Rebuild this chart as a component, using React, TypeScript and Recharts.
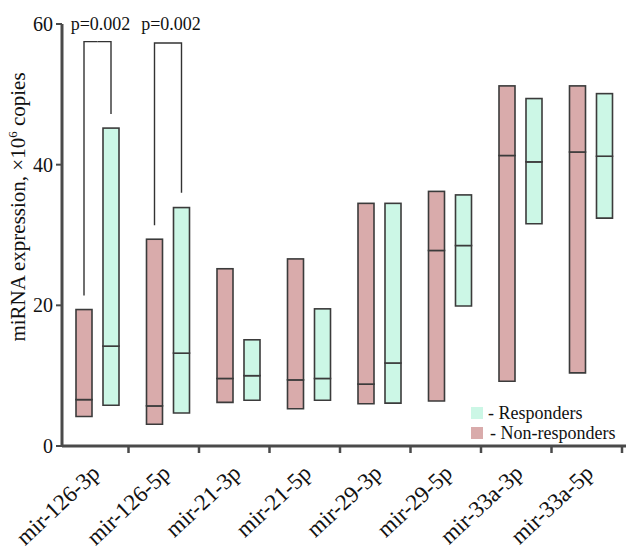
import { Bar, ComposedChart, XAxis, YAxis } from "recharts";

const categories = [
  "mir-126-3p",
  "mir-126-5p",
  "mir-21-3p",
  "mir-21-5p",
  "mir-29-3p",
  "mir-29-5p",
  "mir-33a-3p",
  "mir-33a-5p",
];

// Non-responders: min / median / max
const nrMin = [4.2, 3.1, 6.2, 5.3, 6.0, 6.4, 9.2, 10.4];
const nrMedian = [6.6, 5.7, 9.6, 9.4, 8.8, 27.8, 41.3, 41.8];
const nrMax = [19.4, 29.4, 25.2, 26.6, 34.5, 36.2, 51.2, 51.2];

// Responders: min / median / max
const rMin = [5.8, 4.7, 6.5, 6.5, 6.1, 19.9, 31.6, 32.4];
const rMedian = [14.2, 13.2, 10.0, 9.6, 11.8, 28.5, 40.4, 41.2];
const rMax = [45.2, 33.9, 15.1, 19.5, 34.5, 35.7, 49.4, 50.1];

// significance brackets (null = none)
const pLabels = ["p=0.002", "p=0.002", null, null, null, null, null, null];
const bracketTop = [57.5, 57.3, null, null, null, null, null, null];
const bracketNrLow = [21.4, 31.4, null, null, null, null, null, null];
const bracketRLow = [47.2, 36.0, null, null, null, null, null, null];
const pLabelValue = 59.1;

const yTicks = [0, 20, 40, 60];

const seriesLabels = ["- Responders", "- Non-responders"];

const CHART_W = 626;
const CHART_H = 549;
const Y_AXIS_W = 62;
const BAR_SIZE = 16;
const BAR_GAP = 11;
const BAND = (CHART_W - Y_AXIS_W) / categories.length;

const NR_FILL = "#d9abab";
const R_FILL = "#ccf7e6";
const BOX_STROKE = "#3b3b3b";
const AXIS = "#4a4a4a";
const FONT = "'Liberation Serif', 'Times New Roman', serif";

const data = categories.map((name, i) => ({
  name,
  nrBase: nrMin[i],
  nrLow: nrMedian[i] - nrMin[i],
  nrHigh: nrMax[i] - nrMedian[i],
  rBase: rMin[i],
  rLow: rMedian[i] - rMin[i],
  rHigh: rMax[i] - rMedian[i],
}));

function upperShape(group: "nr" | "r") {
  return (props: any) => {
    const { x, y, width, height, index, fill } = props;
    const i = index as number;
    const max = group === "nr" ? nrMax[i] : rMax[i];
    const median = group === "nr" ? nrMedian[i] : rMedian[i];
    const ppu = height / (max - median);
    const toY = (v: number) => y + (max - v) * ppu;
    const cx = x + width / 2;
    const half = (BAR_SIZE + BAR_GAP) / 2;
    const top = bracketTop[i];
    const low = group === "nr" ? bracketNrLow[i] : bracketRLow[i];
    const label = pLabels[i];
    return (
      <g>
        <rect
          x={x}
          y={y}
          width={width}
          height={height}
          fill={fill}
          stroke={BOX_STROKE}
          strokeWidth={1.6}
        />
        {top != null && low != null && (
          <polyline
            points={
              group === "nr"
                ? `${cx},${toY(low)} ${cx},${toY(top)} ${cx + half},${toY(top)}`
                : `${cx - half},${toY(top)} ${cx},${toY(top)} ${cx},${toY(low)}`
            }
            fill="none"
            stroke="#333"
            strokeWidth={1.4}
          />
        )}
        {group === "nr" && label && (
          <text
            x={cx + half + 3}
            y={toY(pLabelValue)}
            textAnchor="middle"
            fontSize={18}
            fontFamily={FONT}
            fill="#111"
          >
            {label}
          </text>
        )}
      </g>
    );
  };
}

function CategoryTick(props: any) {
  const { x, y, payload } = props;
  const markX = x + BAND / 2 - 4;
  return (
    <g>
      <line x1={markX} x2={markX} y1={y} y2={y + 7} stroke={AXIS} strokeWidth={2.5} />
      <text
        transform={`translate(${x + 4},${y + 29}) rotate(-43)`}
        textAnchor="end"
        fontSize={23}
        fontFamily={FONT}
        fill="#111"
      >
        {payload.value}
      </text>
    </g>
  );
}

function YLabel() {
  return (
    <text
      transform="translate(25,207) rotate(-90)"
      textAnchor="middle"
      fontSize={21}
      fontFamily={FONT}
      fill="#111"
    >
      <tspan>miRNA expression, ×10</tspan>
      <tspan dy={-8} fontSize={13}>
        6
      </tspan>
      <tspan dy={8}> copies</tspan>
    </text>
  );
}

function LegendBox() {
  const colors = [R_FILL, NR_FILL];
  return (
    <div
      style={{
        position: "absolute",
        left: 471,
        top: 403,
        fontFamily: FONT,
        fontSize: 18,
        color: "#111",
        lineHeight: "20px",
      }}
    >
      {seriesLabels.map((label, i) => (
        <div key={label} style={{ display: "flex", alignItems: "center", whiteSpace: "nowrap" }}>
          <span
            style={{
              display: "inline-block",
              width: 12,
              height: 12,
              background: colors[i],
              marginRight: i === 0 ? 5 : 7,
            }}
          />
          <span>{label}</span>
        </div>
      ))}
    </div>
  );
}

export default function App() {
  return (
    <div style={{ position: "relative", width: CHART_W, height: CHART_H, background: "#fff" }}>
      <style>{"body{margin:0;}"}</style>
      <ComposedChart
        width={CHART_W}
        height={CHART_H}
        data={data}
        margin={{ top: 24, right: 0, bottom: 0, left: 0 }}
        barGap={BAR_GAP}
        barSize={BAR_SIZE}
      >
        <XAxis
          dataKey="name"
          height={CHART_H - 446}
          axisLine={{ stroke: AXIS, strokeWidth: 3 }}
          tickLine={false}
          tickSize={0}
          tickMargin={0}
          interval={0}
          tick={<CategoryTick />}
        />
        <YAxis
          width={Y_AXIS_W}
          domain={[0, 60]}
          ticks={yTicks}
          interval={0}
          axisLine={{ stroke: AXIS, strokeWidth: 3 }}
          tickLine={{ stroke: AXIS, strokeWidth: 2 }}
          tickSize={6}
          tickMargin={3}
          tick={{ fontSize: 20, fontFamily: FONT, fill: "#111" }}
          label={<YLabel />}
        />
        <Bar dataKey="nrBase" stackId="nr" fill="transparent" isAnimationActive={false} />
        <Bar
          dataKey="nrLow"
          stackId="nr"
          fill={NR_FILL}
          stroke={BOX_STROKE}
          strokeWidth={1.6}
          isAnimationActive={false}
        />
        <Bar
          dataKey="nrHigh"
          stackId="nr"
          fill={NR_FILL}
          shape={upperShape("nr")}
          isAnimationActive={false}
        />
        <Bar dataKey="rBase" stackId="r" fill="transparent" isAnimationActive={false} />
        <Bar
          dataKey="rLow"
          stackId="r"
          fill={R_FILL}
          stroke={BOX_STROKE}
          strokeWidth={1.6}
          isAnimationActive={false}
        />
        <Bar
          dataKey="rHigh"
          stackId="r"
          fill={R_FILL}
          shape={upperShape("r")}
          isAnimationActive={false}
        />
      </ComposedChart>
      <LegendBox />
    </div>
  );
}
